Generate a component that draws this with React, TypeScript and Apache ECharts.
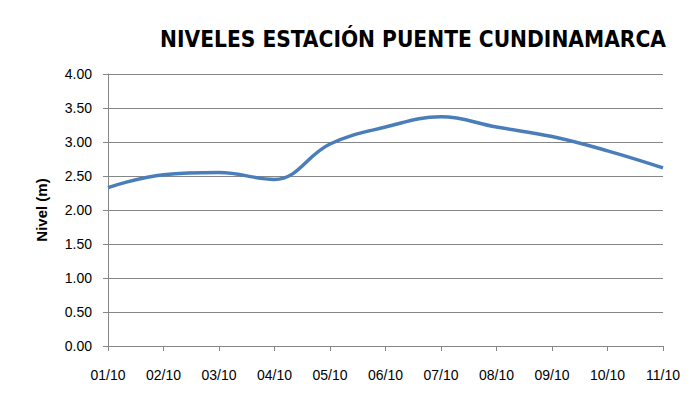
import React, { useEffect, useRef } from "react";
import * as echarts from "echarts";

const categories = ["01/10", "02/10", "03/10", "04/10", "05/10", "06/10", "07/10", "08/10", "09/10", "10/10", "11/10"];
const niveles = [2.33, 2.52, 2.55, 2.45, 2.97, 3.22, 3.37, 3.22, 3.08, 2.87, 2.62];
const titleText = "NIVELES ESTACIÓN PUENTE CUNDINAMARCA";
const yAxisName = "Nivel (m)";

const FONT = "'Liberation Sans', Arial, sans-serif";
const TITLE_FONT = "'DejaVu Sans Condensed', 'Liberation Sans', Arial, sans-serif";

export default function App() {
  const ref = useRef<HTMLDivElement>(null);
  useEffect(() => {
    if (!ref.current) return;
    const chart = echarts.init(ref.current, null, { renderer: "svg" });
    chart.setOption({
      animation: false,
      backgroundColor: "#ffffff",
      graphic: {
        elements: [
          {
            type: "rect",
            z: 100,
            silent: true,
            shape: { x: 6, y: 7, width: 720, height: 420 },
            style: { fill: null, stroke: "#8a8a8a", lineWidth: 2 },
          },
        ],
      },
      title: {
        text: titleText,
        left: 408,
        top: 22,
        textAlign: "center",
        textStyle: { fontFamily: TITLE_FONT, fontWeight: "bold", fontSize: 22.5, color: "#000" },
      },
      grid: { left: 108, right: 33, top: 74, bottom: 54, containLabel: false },
      xAxis: {
        type: "category",
        data: categories,
        boundaryGap: false,
        axisLine: { lineStyle: { color: "#868686", width: 1 } },
        axisTick: { show: true, length: 5, alignWithLabel: true, lineStyle: { color: "#868686" } },
        axisLabel: { fontFamily: FONT, fontSize: 14, color: "#000", margin: 22, interval: 0 },
        splitLine: { show: false },
      },
      yAxis: {
        type: "value",
        min: 0,
        max: 4,
        interval: 0.5,
        name: yAxisName,
        nameLocation: "middle",
        nameGap: 59,
        nameRotate: 90,
        nameTextStyle: { fontFamily: FONT, fontWeight: "bold", fontSize: 15, color: "#000" },
        axisLine: { show: true, lineStyle: { color: "#868686", width: 1 } },
        axisTick: { show: true, length: 5, lineStyle: { color: "#868686" } },
        axisLabel: {
          fontFamily: FONT,
          fontSize: 14,
          color: "#000",
          margin: 16,
          formatter: (v: number) => v.toFixed(2),
        },
        splitLine: { show: true, lineStyle: { color: "#868686", width: 1 } },
      },
      series: [
        {
          type: "line",
          data: niveles,
          smooth: 0.4,
          showSymbol: false,
          lineStyle: { color: "#4a7ebb", width: 3.5 },
          itemStyle: { color: "#4a7ebb" },
        },
      ],
    });
    return () => chart.dispose();
  }, []);
  return <div ref={ref} style={{ width: 696, height: 400, margin: -8 }} />;
}
